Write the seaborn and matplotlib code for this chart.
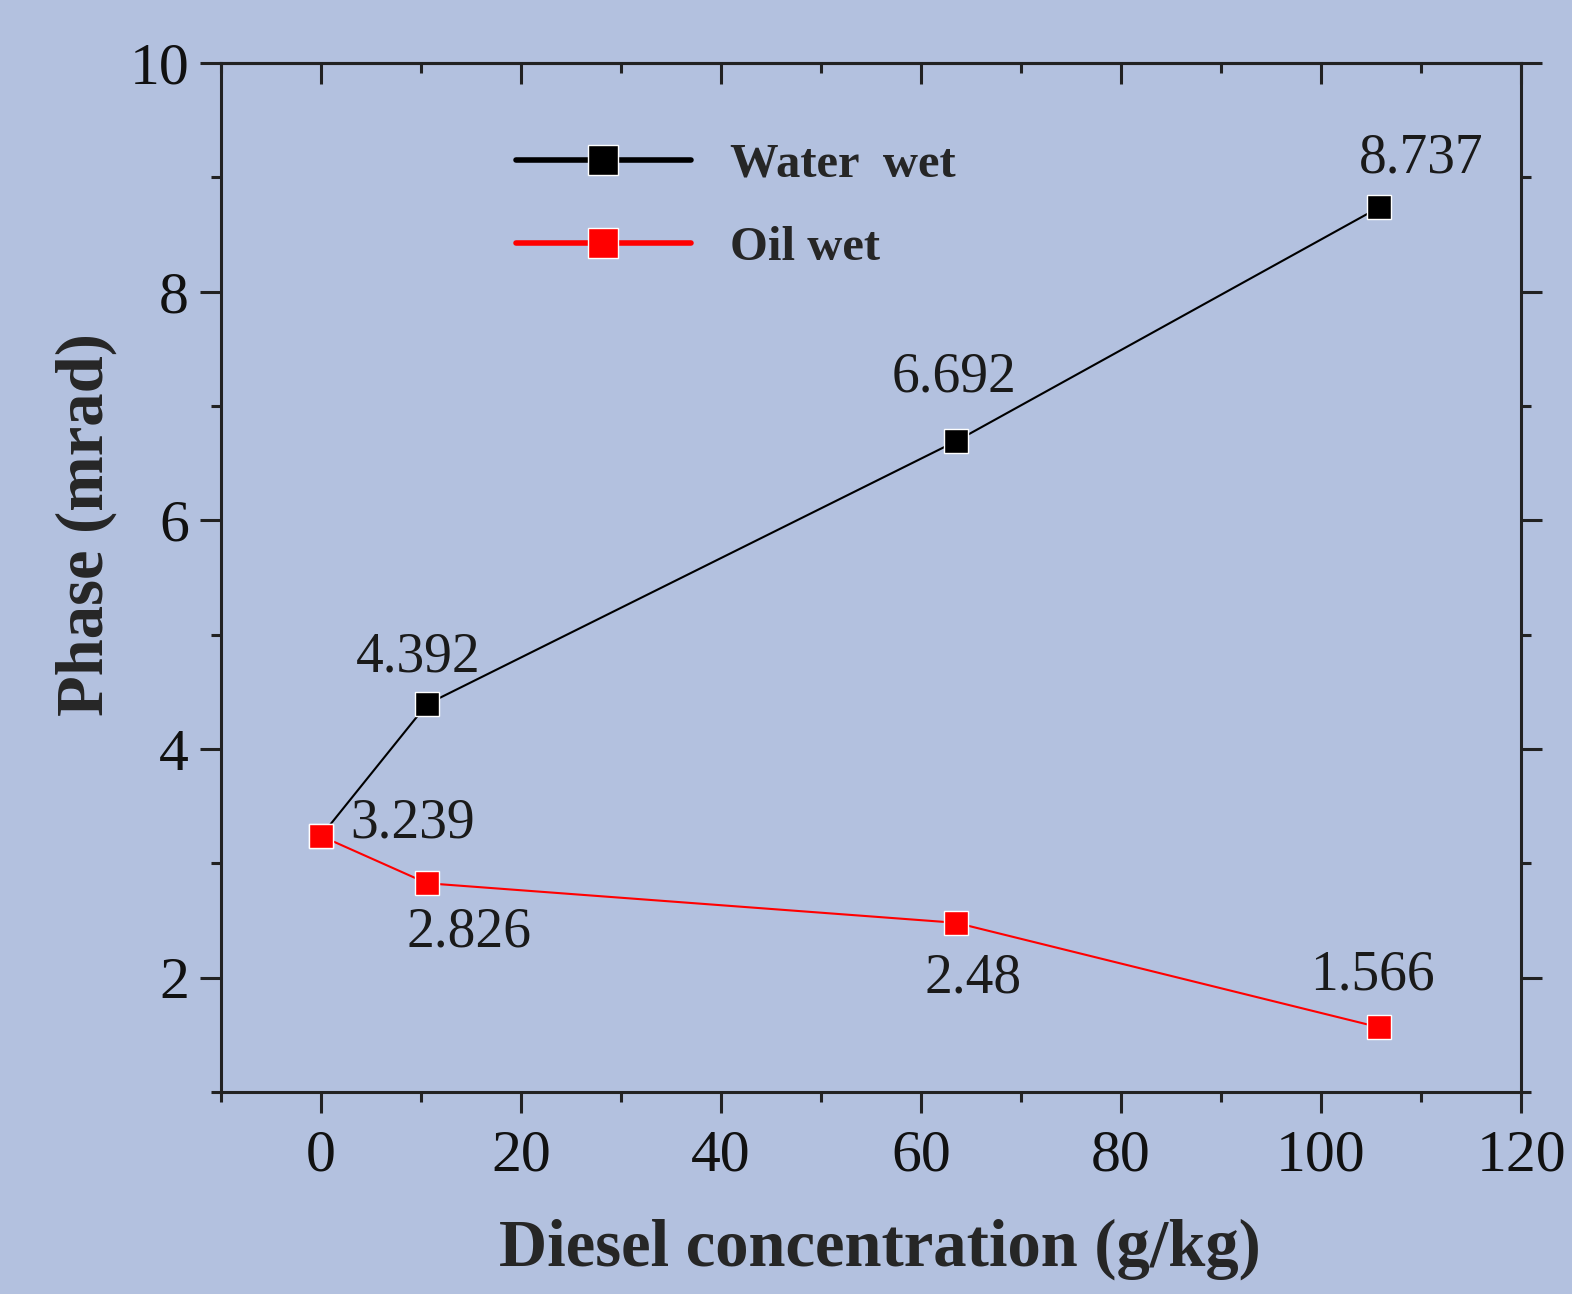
import matplotlib
matplotlib.use('Agg')
import matplotlib.pyplot as plt
import seaborn as sns
import pandas as pd
from matplotlib.ticker import MultipleLocator

# data
concentration = [0, 10.6, 63.5, 105.8]
water_wet = [3.239, 4.392, 6.692, 8.737]
oil_wet = [3.239, 2.826, 2.48, 1.566]
series_names = ['Water  wet', 'Oil wet']

df = pd.DataFrame({
    'x': concentration * 2,
    'y': water_wet + oil_wet,
    'series': [series_names[0]] * 4 + [series_names[1]] * 4,
})

bg = '#b3c1df'
sns.set_theme(style='ticks')
plt.rcParams['font.family'] = ['Liberation Serif', 'DejaVu Serif']

fig = plt.figure(figsize=(15.72, 12.94), dpi=100, facecolor=bg)
ax = fig.add_axes([0.1406, 0.1561, 0.8270, 0.7952], facecolor=bg)

sns.lineplot(data=df, x='x', y='y', hue='series', palette=['black', 'red'],
             marker='s', markersize=17, markeredgecolor='white', markeredgewidth=1,
             linewidth=1.5, sort=False, ax=ax)

# value labels (offsets in pixels)
offsets_water = [(0, 0), (-9, 47), (-2, 64), (42, 49)]
offsets_oil = [(92, 13), (42, -49), (17, -56), (-7, 52)]
for x, y, off in zip(concentration[1:], water_wet[1:], offsets_water[1:]):
    ax.annotate(f'{y:g}', (x, y), xytext=off, textcoords='offset pixels',
                ha='center', va='center', fontsize=40, color='#1a1a1a')
for x, y, off in zip(concentration, oil_wet, offsets_oil):
    ax.annotate(f'{y:g}', (x, y), xytext=off, textcoords='offset pixels',
                ha='center', va='center', fontsize=40, color='#1a1a1a')

ax.set_xlim(-10, 120)
ax.set_ylim(1, 10)
ax.xaxis.set_major_locator(MultipleLocator(20))
ax.xaxis.set_minor_locator(MultipleLocator(10))
ax.yaxis.set_major_locator(MultipleLocator(2))
ax.yaxis.set_minor_locator(MultipleLocator(1))

for s in ax.spines.values():
    s.set_linewidth(2.2)
    s.set_color('#222222')

ax.tick_params(axis='both', which='major', direction='out', length=15, width=2.2,
               labelsize=43, color='#222222', labelcolor='#111111')
ax.tick_params(axis='both', which='minor', direction='out', length=7, width=2.2, color='#222222')
ax.tick_params(axis='x', which='both', pad=12)
ax.tick_params(axis='y', which='both', pad=8, right=True)

top = ax.secondary_xaxis('top')
top.xaxis.set_major_locator(MultipleLocator(20))
top.xaxis.set_minor_locator(MultipleLocator(10))
top.tick_params(which='major', direction='in', length=15, width=2.2, labeltop=False, color='#222222')
top.tick_params(which='minor', direction='in', length=7, width=2.2, color='#222222')
top.spines['top'].set_linewidth(2.2)

ax.set_xlabel('Diesel concentration (g/kg)', fontsize=48, fontweight='bold')
ax.set_ylabel('Phase (mrad)', fontsize=48, fontweight='bold')
ax.xaxis.set_label_coords(0.507, -0.123)
ax.yaxis.set_label_coords(-0.08, 0.551)

leg = ax.legend(loc='upper left', bbox_to_anchor=(0.193, 0.965), frameon=False,
                prop={'size': 35, 'weight': 'bold'}, handlelength=3.6,
                handletextpad=0.8, labelspacing=0.8)
for line in leg.get_lines():
    line.set_linewidth(4)
    line.set_markersize(21)

fig.savefig('out.png', dpi=100, facecolor=bg)
